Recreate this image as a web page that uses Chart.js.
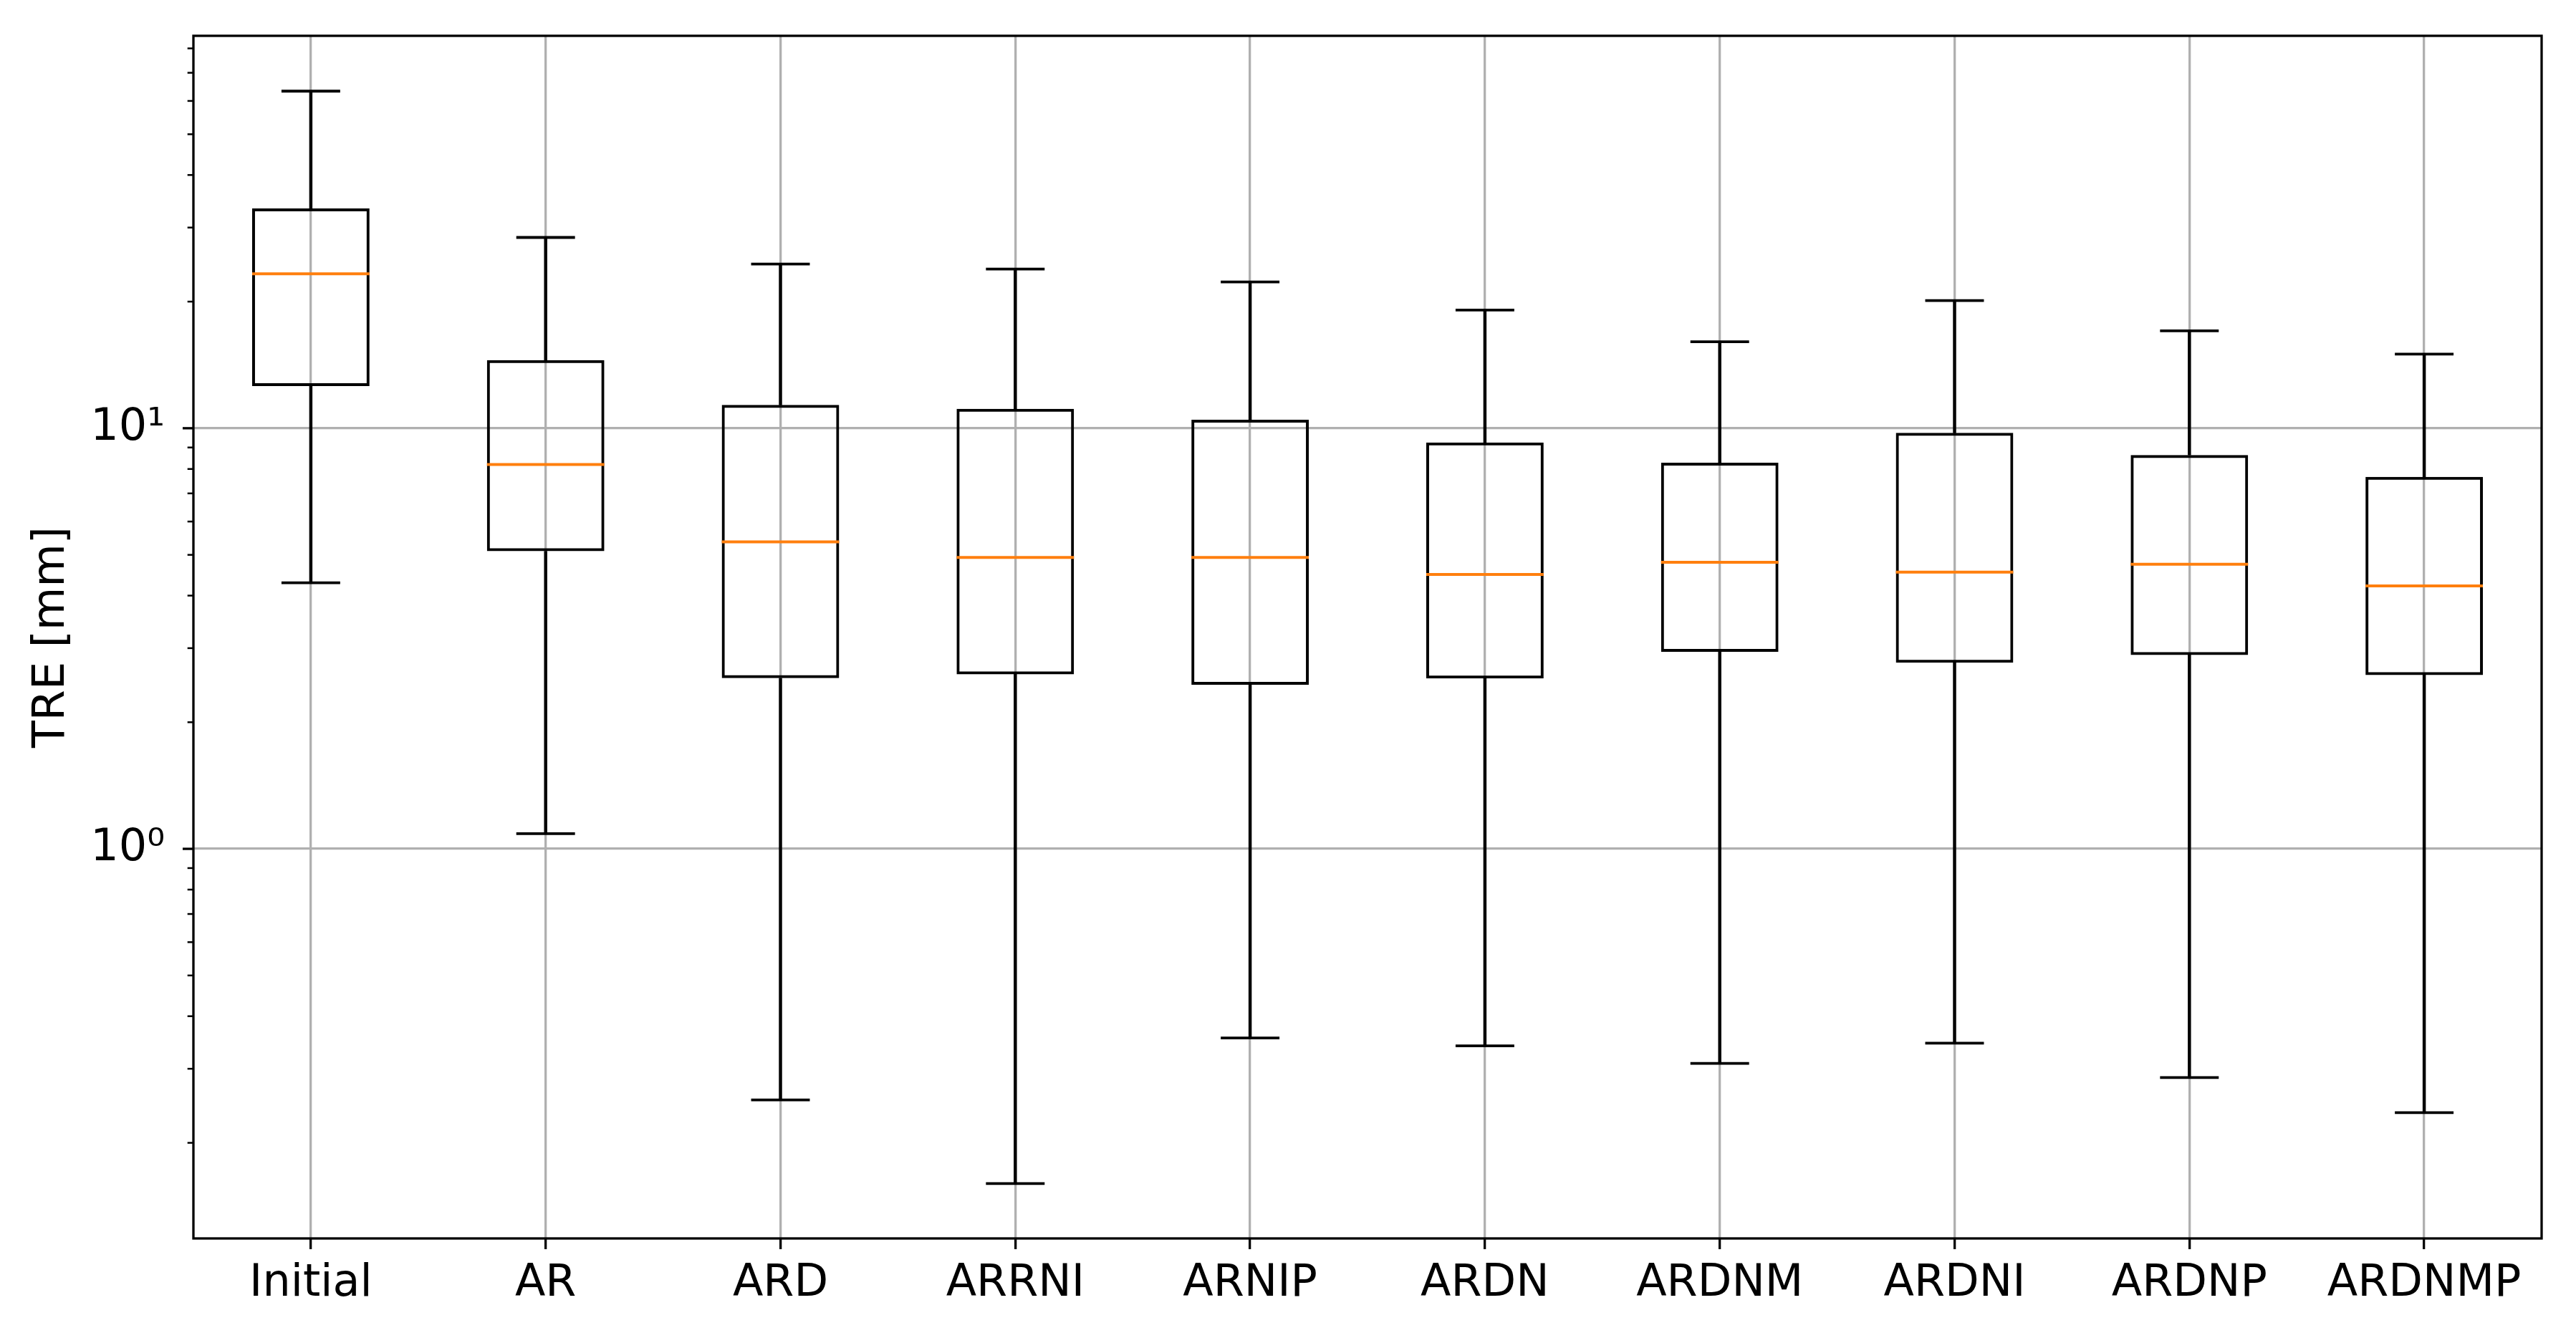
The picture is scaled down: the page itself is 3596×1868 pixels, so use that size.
<!DOCTYPE html>
<html>
<head>
<meta charset="utf-8">
<title>TRE box plot</title>
<script src="https://cdn.jsdelivr.net/npm/chart.js@4.4.1/dist/chart.umd.min.js"></script>
<style>
  html, body { margin: 0; padding: 0; background: #fff; }
  canvas { display: block; }
</style>
</head>
<body>
<canvas id="boxChart" width="3596" height="1868"></canvas>
<script>
// box plot values (TRE in mm)
const categories = ['Initial', 'AR', 'ARD', 'ARRNI', 'ARNIP', 'ARDN', 'ARDNM', 'ARDNI', 'ARDNP', 'ARDNMP'];
const whiskerLow = [4.29, 1.087, 0.253, 0.160, 0.355, 0.340, 0.309, 0.345, 0.286, 0.236];
const q1 = [12.6, 5.10, 2.545, 2.60, 2.455, 2.54, 2.94, 2.77, 2.89, 2.59];
const median = [23.3, 8.20, 5.37, 4.93, 4.93, 4.49, 4.80, 4.55, 4.75, 4.22];
const q3 = [33.3, 14.52, 11.36, 11.12, 10.48, 9.25, 8.28, 9.75, 8.64, 7.66];
const whiskerHigh = [63.3, 28.42, 24.56, 23.9, 22.28, 19.09, 16.06, 20.11, 17.04, 15.0];

// y axis
const yMin = 0.1185;
const yMax = 85.7;
const majorTicks = [1, 10];
const majorTickLabels = ['10⁰', '10¹'];

const FONT = '"DejaVu Sans", sans-serif';
const LINE = 3.8;

const isMajor = (v) => majorTicks.some(m => Math.abs(v - m) < 1e-9);
const catWidth = (chart) => {
  const x = chart.scales.x;
  return x ? (x.right - x.left) / categories.length : 0;
};

// tick marks on the log axis + the frame round the plot
const axisDecor = {
  id: 'axisDecor',
  afterDatasetsDraw(chart) {
    const { ctx, chartArea: a, scales: { y } } = chart;
    ctx.save();
    ctx.strokeStyle = '#000';
    y.ticks.forEach(t => {
      const v = t.value;
      const s = v / Math.pow(10, Math.floor(Math.log10(v) + 1e-9));
      if (Math.abs(s - Math.round(s)) > 1e-6) return;
      const py = y.getPixelForValue(v);
      const major = isMajor(v);
      ctx.lineWidth = major ? 3.3 : 2.5;
      ctx.beginPath();
      ctx.moveTo(a.left - (major ? 15 : 8.3), py);
      ctx.lineTo(a.left, py);
      ctx.stroke();
    });
    ctx.lineWidth = 3.3;
    ctx.strokeRect(a.left, a.top, a.right - a.left, a.bottom - a.top);
    ctx.restore();
  }
};

const ctx = document.getElementById('boxChart');
new Chart(ctx, {
  type: 'bar',
  data: {
    labels: categories,
    datasets: [
      {
        label: 'upper whisker',
        data: categories.map((c, i) => [q3[i], whiskerHigh[i]]),
        backgroundColor: '#000',
        borderWidth: 0,
        barThickness: LINE,
        grouped: false,
        order: 4
      },
      {
        label: 'lower whisker',
        data: categories.map((c, i) => [whiskerLow[i], q1[i]]),
        backgroundColor: '#000',
        borderWidth: 0,
        barThickness: LINE,
        grouped: false,
        order: 4
      },
      {
        label: 'box',
        data: categories.map((c, i) => [q1[i], q3[i]]),
        backgroundColor: 'rgba(0,0,0,0)',
        borderColor: '#000',
        borderWidth: 4,
        borderSkipped: false,
        barPercentage: 0.5,
        categoryPercentage: 1,
        grouped: false,
        order: 3
      },
      {
        type: 'line',
        label: 'upper cap',
        data: whiskerHigh,
        showLine: false,
        pointStyle: 'line',
        pointRadius: (c) => catWidth(c.chart) * 0.125,
        pointBorderColor: '#000',
        pointBorderWidth: LINE,
        order: 2
      },
      {
        type: 'line',
        label: 'lower cap',
        data: whiskerLow,
        showLine: false,
        pointStyle: 'line',
        pointRadius: (c) => catWidth(c.chart) * 0.125,
        pointBorderColor: '#000',
        pointBorderWidth: LINE,
        order: 2
      },
      {
        type: 'line',
        label: 'median',
        data: median,
        showLine: false,
        pointStyle: 'line',
        pointRadius: (c) => catWidth(c.chart) * 0.25,
        pointBorderColor: '#ff7f0e',
        pointBorderWidth: 4,
        order: 1
      }
    ]
  },
  options: {
    responsive: false,
    devicePixelRatio: 1,
    animation: false,
    events: [],
    layout: {
      padding: { top: 50, right: 48, left: 0, bottom: 0 }
    },
    plugins: {
      legend: { display: false },
      tooltip: { enabled: false }
    },
    scales: {
      x: {
        offset: true,
        border: { display: false },
        grid: {
          offset: false,
          color: '#b0b0b0',
          lineWidth: 3.3,
          drawTicks: true,
          tickLength: 15,
          tickColor: '#000',
          tickWidth: 3.3
        },
        ticks: {
          color: '#000',
          padding: 12,
          maxRotation: 0,
          autoSkip: false,
          font: { family: FONT, size: 62 }
        },
        afterFit: (scale) => { scale.height = 139; }
      },
      y: {
        type: 'logarithmic',
        min: yMin,
        max: yMax,
        border: { display: false },
        grid: {
          drawTicks: false,
          color: (c) => (c.tick && isMajor(c.tick.value)) ? '#b0b0b0' : 'rgba(0,0,0,0)',
          lineWidth: 3.3
        },
        ticks: {
          color: '#000',
          padding: 40,
          autoSkip: false,
          font: { family: FONT, size: 62 },
          callback: (v) => {
            const i = majorTicks.findIndex(m => Math.abs(v - m) < 1e-9);
            return i >= 0 ? majorTickLabels[i] : '';
          }
        },
        title: {
          display: true,
          text: 'TRE [mm]',
          color: '#000',
          font: { family: FONT, size: 62 },
          padding: { top: 36, bottom: 0 }
        },
        afterFit: (scale) => {
          scale.width = 270;
          scale.paddingTop = 0;
          scale.paddingBottom = 0;
        }
      }
    }
  },
  plugins: [axisDecor]
});
</script>
</body>
</html>
